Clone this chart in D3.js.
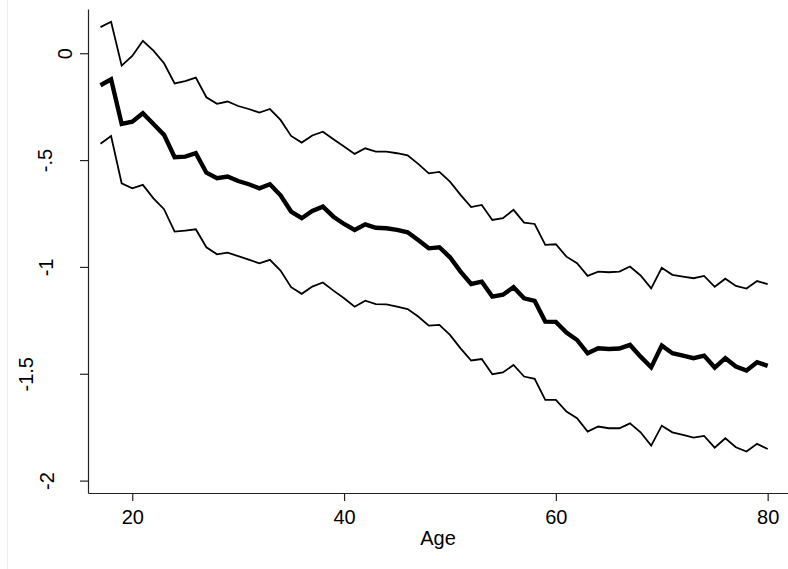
<!DOCTYPE html>
<html>
<head>
<meta charset="utf-8">
<script src="https://cdn.jsdelivr.net/npm/d3@7"></script>
<style>
  html, body { margin: 0; padding: 0; background: #fff; }
  svg { display: block; }
  text { font-family: "Liberation Sans", Arial, Helvetica, sans-serif; }
</style>
</head>
<body>
<svg id="chart" width="788" height="569"></svg>
<script>
// Age profile: point estimate with lower and upper bounds
const ages = d3.range(17, 81);

const estimate = [
  -0.150, -0.122, -0.331, -0.320, -0.281, -0.331, -0.382, -0.487, -0.484, -0.468,
  -0.559, -0.585, -0.577, -0.598, -0.613, -0.632, -0.613, -0.665, -0.741, -0.772,
  -0.738, -0.718, -0.765, -0.799, -0.827, -0.801, -0.817, -0.819, -0.827, -0.838,
  -0.874, -0.913, -0.908, -0.955, -1.022, -1.080, -1.069, -1.139, -1.130, -1.095,
  -1.147, -1.159, -1.256, -1.257, -1.307, -1.342, -1.404, -1.381, -1.384, -1.382,
  -1.365, -1.420, -1.470, -1.368, -1.404, -1.415, -1.427, -1.415, -1.471, -1.427,
  -1.466, -1.485, -1.446, -1.463
];

const upper = [
   0.122,  0.147, -0.058, -0.013,  0.058,  0.012, -0.047, -0.141, -0.131, -0.114,
  -0.206, -0.237, -0.226, -0.247, -0.261, -0.278, -0.261, -0.312, -0.387, -0.418,
  -0.385, -0.367, -0.403, -0.437, -0.471, -0.445, -0.460, -0.460, -0.468, -0.478,
  -0.518, -0.562, -0.555, -0.601, -0.663, -0.720, -0.710, -0.780, -0.772, -0.733,
  -0.793, -0.799, -0.897, -0.894, -0.952, -0.983, -1.042, -1.022, -1.025, -1.022,
  -0.998, -1.040, -1.100, -1.004, -1.037, -1.045, -1.053, -1.042, -1.093, -1.055,
  -1.089, -1.101, -1.066, -1.081
];

const lower = [
  -0.424, -0.387, -0.609, -0.632, -0.616, -0.679, -0.730, -0.835, -0.830, -0.824,
  -0.908, -0.941, -0.933, -0.949, -0.966, -0.983, -0.967, -1.017, -1.095, -1.126,
  -1.092, -1.073, -1.111, -1.147, -1.186, -1.158, -1.174, -1.175, -1.186, -1.197,
  -1.232, -1.275, -1.271, -1.318, -1.381, -1.438, -1.431, -1.502, -1.494, -1.459,
  -1.513, -1.524, -1.622, -1.622, -1.677, -1.708, -1.771, -1.747, -1.755, -1.755,
  -1.732, -1.774, -1.836, -1.743, -1.774, -1.786, -1.799, -1.791, -1.846, -1.802,
  -1.844, -1.864, -1.828, -1.852
];

const xTicks = [20, 40, 60, 80];
const yTicks = [0, -0.5, -1, -1.5, -2];
const yTickLabels = ["0", "-.5", "-1", "-1.5", "-2"];
const xTitle = "Age";

const svg = d3.select("#chart");

// faint outer region edge
svg.append("line")
  .attr("x1", 7.5).attr("x2", 7.5)
  .attr("y1", 0).attr("y2", 569)
  .attr("stroke", "#e8eef1").attr("stroke-width", 1);

const x = d3.scaleLinear().domain([15.82, 81.92]).range([88, 788]);
const y = d3.scaleLinear().domain([-2.058, 0.207]).range([493, 9]);

// axes
const xAxis = svg.append("g")
  .attr("transform", "translate(0,493)")
  .call(d3.axisBottom(x).tickValues(xTicks).tickSize(8).tickSizeOuter(0).tickFormat(d3.format("d")));
xAxis.selectAll("text")
  .attr("y", 31).attr("dy", null)
  .attr("font-size", 20).attr("fill", "#000")
  .style("font-family", '"Liberation Sans", Arial, sans-serif');

// vertical tick labels; the baseline distance from the axis varies per label
const yLabelGap = [16, 36, 35, 55, 34];
const yAxis = svg.append("g")
  .attr("transform", "translate(88,0)")
  .call(d3.axisLeft(y).tickValues(yTicks).tickSize(8).tickSizeOuter(0)
    .tickFormat((d, i) => yTickLabels[i]));
yAxis.selectAll("text")
  .attr("x", 0).attr("y", (d, i) => -yLabelGap[i]).attr("dy", null)
  .attr("transform", "rotate(-90)")
  .attr("text-anchor", "middle")
  .attr("font-size", 20).attr("fill", "#000")
  .style("font-family", '"Liberation Sans", Arial, sans-serif');

[xAxis, yAxis].forEach(g => {
  g.selectAll(".domain").attr("stroke", "#222").attr("stroke-width", 1.2);
  g.selectAll(".tick line").attr("stroke", "#222").attr("stroke-width", 1.2);
});

svg.append("text")
  .attr("x", 438).attr("y", 545)
  .attr("text-anchor", "middle")
  .attr("font-size", 20)
  .text(xTitle);

// series lines
const line = d3.line()
  .x((d, i) => x(ages[i]))
  .y(d => y(d));

svg.append("path").datum(upper)
  .attr("d", line).attr("fill", "none")
  .attr("stroke", "#000").attr("stroke-width", 1.8);

svg.append("path").datum(lower)
  .attr("d", line).attr("fill", "none")
  .attr("stroke", "#000").attr("stroke-width", 1.8);

svg.append("path").datum(estimate)
  .attr("d", line).attr("fill", "none")
  .attr("stroke", "#000").attr("stroke-width", 4.4);
</script>
</body>
</html>
